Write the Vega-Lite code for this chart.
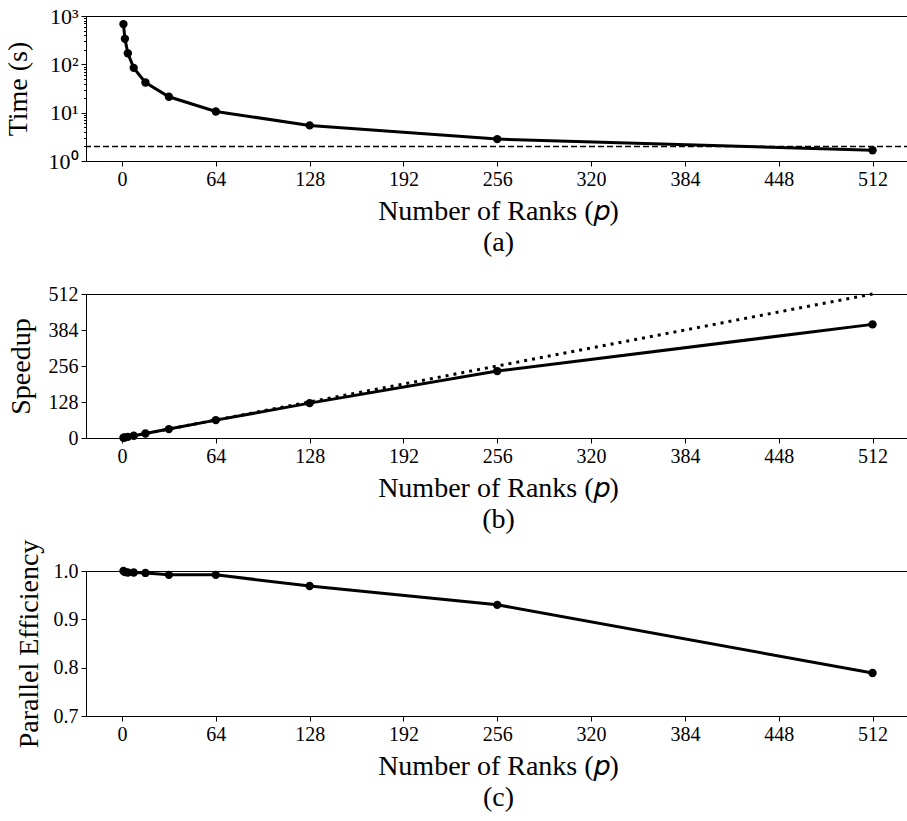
{
  "$schema": "https://vega.github.io/schema/vega-lite/v6.json",
  "background": "white",
  "padding": {"left": 3, "top": 4, "right": 0, "bottom": 5},
  "bounds": "flush",
  "spacing": 133,
  "config": {
    "font": "Liberation Serif",
    "view": {"stroke": "black", "strokeWidth": 1},
    "axis": {
      "grid": false,
      "domainColor": "black",
      "domainWidth": 1,
      "tickColor": "black",
      "tickWidth": 1,
      "tickSize": 5,
      "labelFont": "Liberation Serif",
      "labelFontSize": 20,
      "labelColor": "black",
      "labelPadding": 3,
      "labelOverlap": false,
      "titleFont": "Liberation Serif",
      "titleFontSize": 28,
      "titleFontWeight": "normal",
      "titleColor": "black"
    }
  },
  "datasets": {
    "runs": [
      {"p": 1, "time": 680, "speedup": 1, "eff": 1.0},
      {"p": 2, "time": 337, "speedup": 2.0, "eff": 0.998},
      {"p": 4, "time": 169, "speedup": 3.99, "eff": 0.997},
      {"p": 8, "time": 84.5, "speedup": 7.98, "eff": 0.997},
      {"p": 16, "time": 42, "speedup": 15.9, "eff": 0.996},
      {"p": 32, "time": 21.3, "speedup": 31.7, "eff": 0.992},
      {"p": 64, "time": 10.6, "speedup": 63.5, "eff": 0.992},
      {"p": 128, "time": 5.45, "speedup": 124, "eff": 0.969},
      {"p": 256, "time": 2.84, "speedup": 238, "eff": 0.93},
      {"p": 512, "time": 1.67, "speedup": 404, "eff": 0.789}
    ],
    "ideal": [
      {"p": 1, "speedup": 1},
      {"p": 512, "speedup": 512}
    ]
  },
  "vconcat": [
    {
      "width": 824,
      "height": 145,
      "layer": [
        {
          "data": {"name": "runs"},
          "mark": {"type": "line", "color": "black", "strokeWidth": 3, "point": {"filled": true, "color": "black", "size": 70}},
          "encoding": {
            "x": {
              "field": "p", "type": "quantitative",
              "scale": {"domain": [-24.55, 537.55], "nice": false, "zero": false},
              "axis": {"values": [0, 64, 128, 192, 256, 320, 384, 448, 512], "title": ["Number of Ranks (𝑝)", "(a)"], "titleLineHeight": 31, "titlePadding": 8}
            },
            "y": {
              "field": "time", "type": "quantitative",
              "scale": {"type": "log", "domain": [1, 1000], "nice": false},
              "axis": {
                "title": "Time (s)",
                "titlePadding": 16,
                "values": [1, 2, 3, 4, 5, 6, 7, 8, 9, 10, 20, 30, 40, 50, 60, 70, 80, 90, 100, 200, 300, 400, 500, 600, 700, 800, 900, 1000],
                "labelExpr": "datum.value == 1 ? '10⁰' : datum.value == 10 ? '10¹' : datum.value == 100 ? '10²' : datum.value == 1000 ? '10³' : ''",
                "labelFontSize": 22,
                "tickSize": {"condition": {"test": "indexof([1, 10, 100, 1000], datum.value) >= 0", "value": 5}, "value": 2.5}
              }
            }
          }
        },
        {
          "data": {"values": [{"level": 2}]},
          "mark": {"type": "rule", "color": "black", "strokeWidth": 1.5, "strokeDash": [6, 3]},
          "encoding": {"y": {"field": "level", "type": "quantitative"}}
        }
      ]
    },
    {
      "width": 824,
      "height": 144,
      "layer": [
        {
          "data": {"name": "runs"},
          "mark": {"type": "line", "color": "black", "strokeWidth": 3, "point": {"filled": true, "color": "black", "size": 70}},
          "encoding": {
            "x": {
              "field": "p", "type": "quantitative",
              "scale": {"domain": [-24.55, 537.55], "nice": false, "zero": false},
              "axis": {"values": [0, 64, 128, 192, 256, 320, 384, 448, 512], "title": ["Number of Ranks (𝑝)", "(b)"], "titleLineHeight": 31, "titlePadding": 8}
            },
            "y": {
              "field": "speedup", "type": "quantitative",
              "scale": {"domain": [0, 512], "nice": false},
              "axis": {"title": "Speedup", "titlePadding": 13, "values": [0, 128, 256, 384, 512]}
            }
          }
        },
        {
          "data": {"name": "ideal"},
          "mark": {"type": "line", "color": "black", "strokeWidth": 3, "strokeDash": [3, 5], "strokeCap": "butt"},
          "encoding": {
            "x": {
              "field": "p", "type": "quantitative",
              "axis": {"values": [0, 64, 128, 192, 256, 320, 384, 448, 512], "title": ["Number of Ranks (𝑝)", "(b)"], "titleLineHeight": 31, "titlePadding": 8}
            },
            "y": {
              "field": "speedup", "type": "quantitative",
              "axis": {"title": "Speedup", "titlePadding": 13, "values": [0, 128, 256, 384, 512]}
            }
          }
        }
      ]
    },
    {
      "width": 824,
      "height": 145,
      "data": {"name": "runs"},
      "mark": {"type": "line", "color": "black", "strokeWidth": 3, "point": {"filled": true, "color": "black", "size": 70}},
      "encoding": {
        "x": {
          "field": "p", "type": "quantitative",
          "scale": {"domain": [-24.55, 537.55], "nice": false, "zero": false},
          "axis": {"values": [0, 64, 128, 192, 256, 320, 384, 448, 512], "title": ["Number of Ranks (𝑝)", "(c)"], "titleLineHeight": 31, "titlePadding": 8}
        },
        "y": {
          "field": "eff", "type": "quantitative",
          "scale": {"domain": [0.7, 1.0], "nice": false, "zero": false},
          "axis": {"title": "Parallel Efficiency", "titlePadding": 10, "values": [0.7, 0.8, 0.9, 1.0], "format": ".1f"}
        }
      }
    }
  ]
}
